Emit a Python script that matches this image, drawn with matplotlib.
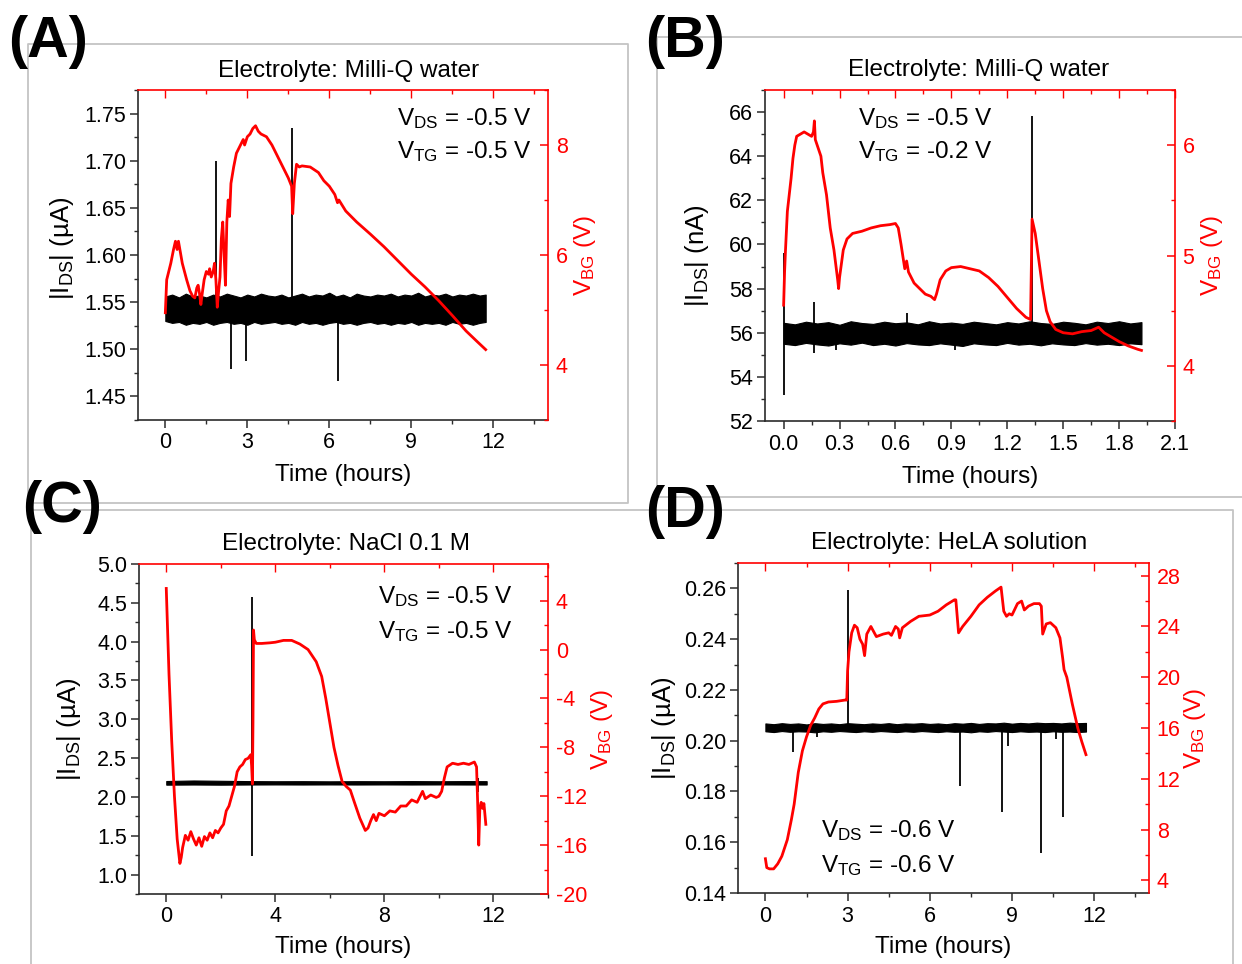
import matplotlib

matplotlib.use("Agg")
import matplotlib.pyplot as plt
from matplotlib.lines import Line2D
from matplotlib.ticker import FormatStrFormatter, MultipleLocator

plt.rcParams["font.family"] = ["Liberation Sans", "DejaVu Sans"]
plt.rcParams["mathtext.fontset"] = "custom"
plt.rcParams["mathtext.rm"] = "Liberation Sans"
plt.rcParams["mathtext.it"] = "Liberation Sans:italic"
plt.rcParams["mathtext.bf"] = "Liberation Sans:bold"
plt.rcParams["axes.unicode_minus"] = False

W, H = 1242, 964
RED = "#ff0000"
AXIS = "#2b2b2b"
FRAME = "#c4c4c4"

# ---------------- panel A: Milli-Q water, VTG = -0.5 V ----------------
vbg_a_t = [0.0, 0.05, 0.1, 0.2, 0.3, 0.37, 0.43, 0.48, 0.55, 0.62, 0.7, 0.78,
           0.9, 1.0, 1.08, 1.15, 1.2, 1.25, 1.3, 1.35, 1.42, 1.5, 1.58, 1.62,
           1.68, 1.75, 1.8, 1.85, 1.9, 1.95, 2.0, 2.05, 2.1, 2.15, 2.2, 2.25,
           2.3, 2.35, 2.4, 2.5, 2.6, 2.75, 2.85, 2.9, 3.0, 3.1, 3.2, 3.3, 3.4,
           3.5, 3.7, 3.9, 4.1, 4.3, 4.5, 4.62, 4.66, 4.72, 4.8, 4.9, 5.0, 5.3,
           5.6, 5.8, 6.0, 6.2, 6.3, 6.35, 6.6, 7.0, 7.5, 8.0, 8.5, 9.0, 9.5,
           10.0, 10.5, 11.0, 11.4, 11.72]
vbg_a = [4.95, 5.55, 5.65, 5.85, 6.1, 6.25, 6.1, 6.25, 6.05, 5.85, 5.7, 5.55,
         5.35, 5.25, 5.22, 5.4, 5.45, 5.3, 5.1, 5.3, 5.55, 5.7, 5.65, 5.75,
         5.6, 5.7, 5.85, 5.55, 5.05, 5.35, 5.6, 6.3, 6.6, 6.0, 5.45, 6.6,
         7.0, 6.7, 7.3, 7.6, 7.85, 8.0, 8.1, 8.0, 8.15, 8.2, 8.3, 8.35, 8.25,
         8.2, 8.15, 8.0, 7.8, 7.6, 7.4, 7.25, 6.75, 7.3, 7.65, 7.6, 7.62, 7.6,
         7.5, 7.35, 7.25, 7.1, 6.95, 7.0, 6.8, 6.6, 6.38, 6.15, 5.9, 5.65, 5.42,
         5.17, 4.9, 4.62, 4.43, 4.28]
ids_a_t = [0.0, 0.25, 0.5, 0.75, 1.0, 1.25, 1.5, 1.75, 2.0, 2.25, 2.5, 2.75,
           3.0, 3.25, 3.5, 3.75, 4.0, 4.25, 4.5, 4.75, 5.0, 5.25, 5.5, 5.75,
           6.0, 6.25, 6.5, 6.75, 7.0, 7.25, 7.5, 7.75, 8.0, 8.25, 8.5, 8.75,
           9.0, 9.25, 9.5, 9.75, 10.0, 10.25, 10.5, 10.75, 11.0, 11.25, 11.5,
           11.72]
ids_a_hi = [1.556, 1.558, 1.555, 1.559, 1.556, 1.557, 1.555, 1.558, 1.556,
            1.559, 1.557, 1.555, 1.558, 1.556, 1.559, 1.557, 1.556, 1.558,
            1.555, 1.557, 1.559, 1.556, 1.558, 1.557, 1.560, 1.556, 1.558,
            1.555, 1.559, 1.557, 1.556, 1.558, 1.557, 1.559, 1.556, 1.558,
            1.557, 1.560, 1.556, 1.558, 1.557, 1.559, 1.556, 1.558, 1.557,
            1.559, 1.557, 1.558]
ids_a_lo = [1.530, 1.528, 1.529, 1.526, 1.528, 1.527, 1.529, 1.526, 1.528,
            1.529, 1.527, 1.528, 1.526, 1.529, 1.527, 1.528, 1.529, 1.527,
            1.528, 1.526, 1.529, 1.527, 1.528, 1.526, 1.528, 1.529, 1.527,
            1.528, 1.526, 1.528, 1.529, 1.527, 1.528, 1.526, 1.528, 1.527,
            1.529, 1.526, 1.528, 1.527, 1.528, 1.526, 1.529, 1.527, 1.528,
            1.526, 1.528, 1.529]
spike_a_t = [1.85, 4.65, 2.4, 2.95, 6.3]
spike_a_lo = [1.545, 1.545, 1.479, 1.488, 1.466]
spike_a_hi = [1.700, 1.735, 1.540, 1.540, 1.540]

# ---------------- panel B: Milli-Q water, VTG = -0.2 V ----------------
vbg_b_t = [0.0, 0.005, 0.01, 0.02, 0.03, 0.04, 0.05, 0.06, 0.07, 0.09, 0.11,
           0.13, 0.15, 0.16, 0.165, 0.17, 0.19, 0.2, 0.21, 0.23, 0.25, 0.27,
           0.29, 0.295, 0.3, 0.32, 0.34, 0.37, 0.42, 0.47, 0.52, 0.57, 0.6,
           0.615, 0.63, 0.65, 0.66, 0.67, 0.7, 0.73, 0.76, 0.79, 0.81, 0.82,
           0.84, 0.87, 0.9, 0.95, 1.0, 1.05, 1.1, 1.15, 1.2, 1.25, 1.3, 1.325,
           1.333, 1.35, 1.37, 1.39, 1.41, 1.43, 1.46, 1.5, 1.55, 1.6, 1.65,
           1.69, 1.72, 1.76, 1.8, 1.85, 1.9, 1.92]
vbg_b = [4.55, 4.85, 5.05, 5.4, 5.55, 5.7, 5.88, 6.0, 6.08, 6.1, 6.12,
         6.1, 6.08, 6.12, 6.22, 6.05, 5.95, 5.9, 5.75, 5.55, 5.25, 5.05,
         4.78, 4.7, 4.8, 5.05, 5.15, 5.2, 5.22, 5.25, 5.27, 5.28, 5.29,
         5.25, 5.1, 4.88, 4.95, 4.85, 4.75, 4.7, 4.65, 4.63, 4.6, 4.65,
         4.78, 4.86, 4.89, 4.9, 4.88, 4.86, 4.8, 4.72, 4.62, 4.52, 4.44, 4.42,
         5.33, 5.2, 4.95, 4.7, 4.5, 4.4, 4.33, 4.3, 4.29, 4.31, 4.32,
         4.35, 4.3, 4.26, 4.22, 4.18, 4.15, 4.14]
ids_b_t = [0.0, 0.06, 0.12, 0.18, 0.24, 0.30, 0.36, 0.42, 0.48, 0.54, 0.60,
           0.66, 0.72, 0.78, 0.84, 0.90, 0.96, 1.02, 1.08, 1.14, 1.20, 1.26,
           1.32, 1.38, 1.44, 1.50, 1.56, 1.62, 1.68, 1.74, 1.80, 1.86, 1.92]
ids_b_hi = [56.45, 56.38, 56.50, 56.42, 56.48, 56.36, 56.52, 56.44, 56.40,
            56.50, 56.43, 56.47, 56.38, 56.52, 56.42, 56.46, 56.40, 56.50,
            56.44, 56.38, 56.48, 56.42, 56.52, 56.44, 56.40, 56.50, 56.45,
            56.38, 56.50, 56.44, 56.52, 56.42, 56.48]
ids_b_lo = [55.50, 55.44, 55.54, 55.47, 55.42, 55.52, 55.46, 55.55, 55.44,
            55.50, 55.42, 55.53, 55.47, 55.44, 55.52, 55.46, 55.40, 55.52,
            55.47, 55.44, 55.54, 55.46, 55.50, 55.43, 55.52, 55.47, 55.44,
            55.53, 55.46, 55.50, 55.44, 55.52, 55.48]
spike_b_t = [0.0, 0.165, 0.66, 1.33, 0.28, 0.92]
spike_b_lo = [53.2, 55.1, 56.0, 56.0, 55.2, 55.2]
spike_b_hi = [59.6, 57.4, 56.9, 65.8, 56.0, 56.0]

# ---------------- panel C: NaCl 0.1 M ----------------
vbg_c_t = [0.0, 0.1, 0.2, 0.3, 0.4, 0.5, 0.55, 0.6, 0.7, 0.8, 0.9, 1.0, 1.1,
           1.2, 1.3, 1.4, 1.5, 1.6, 1.7, 1.8, 1.9, 2.0, 2.1, 2.2, 2.3, 2.4,
           2.5, 2.6, 2.7, 2.8, 2.9, 3.0, 3.1, 3.13, 3.16, 3.18, 3.2, 3.23, 3.3,
           3.5, 3.8, 4.0, 4.3, 4.6, 4.9, 5.2, 5.5, 5.7, 5.85, 6.0, 6.15, 6.3,
           6.45, 6.6, 6.75, 6.9, 7.1, 7.3, 7.4, 7.5, 7.6, 7.7, 7.8, 8.0, 8.2,
           8.4, 8.6, 8.8, 9.0, 9.2, 9.4, 9.5, 9.7, 9.9, 10.0, 10.1, 10.2, 10.3,
           10.5, 10.7, 10.9, 11.1, 11.3, 11.38, 11.42, 11.46, 11.5, 11.55,
           11.6, 11.65, 11.72]
vbg_c = [5.0, -2.0, -7.5, -12.0, -15.5, -17.5, -17.0, -16.2, -15.2, -15.6,
         -14.9, -15.5, -16.0, -15.4, -16.1, -15.3, -15.6, -15.0, -15.4, -14.8,
         -15.0, -14.6, -14.3, -13.2, -12.8, -12.0, -11.2, -10.0, -9.6, -9.4,
         -9.0, -8.9, -8.6, -9.5, -11.0, -6.0, 1.6, 0.8, 0.5, 0.5, 0.55, 0.6,
         0.75, 0.75, 0.45, 0.0, -1.0, -2.2, -4.0, -6.0, -8.0, -9.5, -10.8,
         -11.2, -11.5, -12.5, -13.8, -14.8, -14.6, -14.0, -13.5, -14.0, -13.4,
         -13.6, -13.2, -13.3, -12.8, -12.8, -12.3, -12.5, -11.6, -12.2, -11.9,
         -12.1, -12.0, -11.6, -10.5, -9.6, -9.3, -9.4, -9.3, -9.4, -9.2, -9.6,
         -12.5, -16.0, -13.0, -12.5, -13.0, -12.6, -14.3]
ids_c_t = [0.0, 1.0, 2.0, 3.0, 4.0, 5.0, 6.0, 7.0, 8.0, 9.0, 10.0, 11.0, 11.75]
ids_c_hi = [2.205, 2.212, 2.208, 2.204, 2.202, 2.203, 2.201, 2.203, 2.202,
            2.204, 2.202, 2.204, 2.203]
ids_c_lo = [2.158, 2.160, 2.158, 2.160, 2.161, 2.160, 2.161, 2.160, 2.161,
            2.160, 2.161, 2.160, 2.160]
spike_c_t = [3.15, 11.45]
spike_c_lo = [1.24, 2.07]
spike_c_hi = [4.58, 2.24]

# ---------------- panel D: HeLA solution ----------------
vbg_d_t = [0.0, 0.05, 0.15, 0.3, 0.45, 0.6, 0.8, 0.95, 1.05, 1.2, 1.35, 1.5,
           1.65, 1.8, 1.95, 2.1, 2.3, 2.6, 2.9, 2.97, 3.0, 3.05, 3.15, 3.25,
           3.35, 3.45, 3.55, 3.62, 3.7, 3.85, 3.95, 4.05, 4.3, 4.5, 4.6, 4.75,
           4.85, 4.9, 5.0, 5.3, 5.6, 6.0, 6.3, 6.6, 6.9, 6.95, 7.05, 7.2, 7.5,
           7.8, 8.1, 8.4, 8.6, 8.7, 8.8, 8.9, 9.0, 9.2, 9.35, 9.45, 9.6, 9.8,
           10.0, 10.07, 10.12, 10.25, 10.4, 10.6, 10.75, 10.85, 10.9, 11.0,
           11.2, 11.4, 11.55, 11.7]
vbg_d = [5.7, 5.0, 4.9, 4.9, 5.3, 5.9, 7.2, 8.8, 10.0, 12.5, 14.2, 15.3,
         16.2, 16.8, 17.5, 17.9, 18.05, 18.1, 18.2, 18.2, 20.5, 22.0, 23.5,
         24.1, 23.9, 23.0, 22.6, 21.7, 23.4, 24.0, 23.6, 23.2, 23.4, 23.5,
         23.3, 24.0, 23.8, 23.1, 23.9, 24.4, 24.8, 24.9, 25.2, 25.7, 26.1,
         26.1, 23.5, 24.0, 24.8, 25.7, 26.3, 26.8, 27.1, 25.2, 24.8, 25.0,
         24.9, 25.8, 26.0, 25.3, 25.6, 25.8, 25.8, 25.6, 23.4, 24.2, 24.3,
         23.9, 23.1, 21.5, 20.6, 20.0, 17.9, 16.0, 14.9, 13.9]
ids_d_t = [0.0, 0.3, 0.6, 0.9, 1.2, 1.5, 1.8, 2.1, 2.4, 2.7, 3.0, 3.3, 3.6,
           3.9, 4.2, 4.5, 4.8, 5.1, 5.4, 5.7, 6.0, 6.3, 6.6, 6.9, 7.2, 7.5,
           7.8, 8.1, 8.4, 8.7, 9.0, 9.3, 9.6, 9.9, 10.2, 10.5, 10.8, 11.1,
           11.4, 11.7]
ids_d_hi = [0.2068, 0.2065, 0.2069, 0.2066, 0.2068, 0.2064, 0.2069, 0.2066,
            0.2068, 0.2065, 0.2069, 0.2067, 0.2065, 0.2068, 0.2066, 0.2069,
            0.2065, 0.2068, 0.2067, 0.2069, 0.2066, 0.2068, 0.2065, 0.2069,
            0.2067, 0.2070, 0.2066, 0.2069, 0.2068, 0.2071, 0.2067, 0.2070,
            0.2068, 0.2071, 0.2069, 0.2070, 0.2068, 0.2071, 0.2069, 0.2070]
ids_d_lo = [0.2037, 0.2034, 0.2038, 0.2035, 0.2037, 0.2036, 0.2033, 0.2037,
            0.2035, 0.2038, 0.2036, 0.2034, 0.2037, 0.2035, 0.2038, 0.2036,
            0.2034, 0.2037, 0.2035, 0.2038, 0.2036, 0.2034, 0.2037, 0.2035,
            0.2036, 0.2033, 0.2037, 0.2035, 0.2038, 0.2036, 0.2034, 0.2037,
            0.2035, 0.2036, 0.2034, 0.2037, 0.2035, 0.2036, 0.2034, 0.2036]
spike_d_t = [3.0, 1.0, 1.9, 7.1, 8.65, 8.85, 10.05, 10.6, 10.85]
spike_d_lo = [0.2055, 0.1957, 0.2016, 0.1821, 0.1720, 0.1979, 0.1558, 0.2005,
              0.1700]
spike_d_hi = [0.2592, 0.2055, 0.2055, 0.2055, 0.2055, 0.2055, 0.2055, 0.2055,
              0.2055]

fig = plt.figure(figsize=(W / 100, H / 100), dpi=100)


def fx(px):
    return px / W


def fy(py):
    return 1 - py / H


def make_panel(rect, xlim, xmaj, ylim, ymaj, y2lim, y2maj, xfmt, yfmt, unit):
    left, top, right, bottom = rect
    ax = fig.add_axes([fx(left), fy(bottom), (right - left) / W, (bottom - top) / H])
    ax2 = ax.twinx()

    ax.set_xlim(*xlim)
    ax.set_ylim(*ylim)
    ax2.set_ylim(*y2lim)
    ax.xaxis.set_major_locator(MultipleLocator(xmaj))
    ax.xaxis.set_minor_locator(MultipleLocator(xmaj / 2))
    ax.yaxis.set_major_locator(MultipleLocator(ymaj))
    ax.yaxis.set_minor_locator(MultipleLocator(ymaj / 2))
    ax2.yaxis.set_major_locator(MultipleLocator(y2maj))
    ax2.yaxis.set_minor_locator(MultipleLocator(y2maj / 2))
    ax.xaxis.set_major_formatter(FormatStrFormatter(xfmt))
    ax.yaxis.set_major_formatter(FormatStrFormatter(yfmt))
    ax2.yaxis.set_major_formatter(FormatStrFormatter("%d"))

    for side in ("top", "right"):
        ax.spines[side].set_visible(False)
    for side in ("left", "bottom"):
        ax.spines[side].set_color(AXIS)
        ax.spines[side].set_linewidth(1.2)
        ax2.spines[side].set_visible(False)
    for side in ("top", "right"):
        ax2.spines[side].set_color(RED)
        ax2.spines[side].set_linewidth(1.2)

    ax.tick_params(axis="x", which="major", direction="out", length=6, width=1.1,
                   color=AXIS, labelsize=15.5, pad=3)
    ax.tick_params(axis="y", which="major", direction="out", length=6, width=1.1,
                   color=AXIS, labelsize=15.5, pad=2.5)
    ax.tick_params(axis="both", which="minor", direction="out", length=3.2,
                   width=1.0, color=AXIS)
    ax2.tick_params(axis="y", which="major", direction="in", length=6, width=1.1,
                    color=RED, labelcolor=RED, labelsize=15.5, pad=5.5)
    ax2.tick_params(axis="y", which="minor", direction="in", length=3.2,
                    width=1.0, color=RED)
    ax2.xaxis.set_visible(True)
    ax2.tick_params(axis="x", which="both", top=True, bottom=False,
                    labeltop=False, labelbottom=False, direction="in",
                    color=RED, width=1.0)
    ax2.tick_params(axis="x", which="major", length=6)
    ax2.tick_params(axis="x", which="minor", length=3.2)

    ax.set_xlabel("Time (hours)", fontsize=17.5, va="center")
    ax.set_ylabel("|I$_{\\mathrm{DS}}$| (" + unit + ")", fontsize=18.5, va="center")
    ax2.set_ylabel("V$_{\\mathrm{BG}}$ (V)", fontsize=17.5, color=RED, va="center")
    return ax, ax2


def draw_traces(ax, ax2, band_t, band_lo, band_hi, sp_t, sp_lo, sp_hi, vt, v):
    ax.fill_between(band_t, band_lo, band_hi, color="black", lw=0.8)
    ax.vlines(sp_t, sp_lo, sp_hi, color="black", lw=1.3)
    ax2.plot(vt, v, color=RED, lw=2.0)


def annotate(ax, x, y1, y2, vds, vtg, ha):
    ax.text(x, y1, "V$_{\\mathrm{DS}}$ = " + vds + " V", transform=ax.transAxes,
            fontsize=17.5, ha=ha, va="baseline", zorder=5)
    ax.text(x, y2, "V$_{\\mathrm{TG}}$ = " + vtg + " V", transform=ax.transAxes,
            fontsize=17.5, ha=ha, va="baseline", zorder=5)


# grey page frames
frame_lines = [
    [(28, 503), (28, 44), (628, 44), (628, 503), (28, 503)],
    [(1250, 37), (657, 37), (657, 497), (1250, 497)],
    [(31, 970), (31, 510), (1233, 510), (1233, 970)],
]
for pts in frame_lines:
    fig.add_artist(Line2D([fx(p[0]) for p in pts], [fy(p[1]) for p in pts],
                          color=FRAME, lw=1.3, zorder=0))

# panel A
axA, axA2 = make_panel((138, 90, 548, 420), (-1, 14), 3, (1.425, 1.775), 0.05,
                       (3, 9), 2, "%d", "%.2f", "µA")
draw_traces(axA, axA2, ids_a_t, ids_a_lo, ids_a_hi, spike_a_t, spike_a_lo,
            spike_a_hi, vbg_a_t, vbg_a)
annotate(axA2, 0.961, 0.894, 0.794, "-0.5", "-0.5", "right")
axA.yaxis.set_label_coords(-0.185, 0.52)
axA2.yaxis.set_label_coords(1.09, 0.5)
axA.xaxis.set_label_coords(0.5, -0.167)

# panel B
axB, axB2 = make_panel((765, 90, 1175, 421), (-0.1, 2.1), 0.3, (52, 67), 2,
                       (3.5, 6.5), 1, "%.1f", "%d", "nA")
draw_traces(axB, axB2, ids_b_t, ids_b_lo, ids_b_hi, spike_b_t, spike_b_lo,
            spike_b_hi, vbg_b_t, vbg_b)
annotate(axB2, 0.226, 0.894, 0.795, "-0.5", "-0.2", "left")
axB.yaxis.set_label_coords(-0.166, 0.5)
axB2.yaxis.set_label_coords(1.09, 0.5)
axB.xaxis.set_label_coords(0.5, -0.169)

# panel C
axC, axC2 = make_panel((139, 564, 548, 894), (-1, 14), 4, (0.75, 5.0), 0.5,
                       (-20, 7), 4, "%d", "%.1f", "µA")
draw_traces(axC, axC2, ids_c_t, ids_c_lo, ids_c_hi, spike_c_t, spike_c_lo,
            spike_c_hi, vbg_c_t, vbg_c)
annotate(axC2, 0.914, 0.882, 0.776, "-0.5", "-0.5", "right")
axC.yaxis.set_label_coords(-0.172, 0.5)
axC2.yaxis.set_label_coords(1.133, 0.5)
axC.xaxis.set_label_coords(0.5, -0.161)

# panel D
axD, axD2 = make_panel((738, 563, 1149, 893), (-1, 14), 3, (0.14, 0.27), 0.02,
                       (3, 29), 4, "%d", "%.2f", "µA")
draw_traces(axD, axD2, ids_d_t, ids_d_lo, ids_d_hi, spike_d_t, spike_d_lo,
            spike_d_hi, vbg_d_t, vbg_d)
annotate(axD2, 0.203, 0.17, 0.064, "-0.6", "-0.6", "left")
axD.yaxis.set_label_coords(-0.179, 0.5)
axD2.yaxis.set_label_coords(1.112, 0.5)
axD.xaxis.set_label_coords(0.5, -0.164)

# titles and panel letters
titles = [
    (349, 77, "Electrolyte: Milli-Q water"),
    (979, 76, "Electrolyte: Milli-Q water"),
    (346, 550, "Electrolyte: NaCl 0.1 M"),
    (949, 549, "Electrolyte: HeLA solution"),
]
for x, y, s in titles:
    fig.text(fx(x), fy(y), s, fontsize=17.5, ha="center", va="baseline")

letters = [(8, 57, "(A)"), (645, 57, "(B)"), (22, 522, "(C)"), (645, 527, "(D)")]
for x, y, s in letters:
    fig.text(fx(x), fy(y), s, fontsize=41.5, fontweight="bold", ha="left",
             va="baseline")

fig.savefig("out.png", dpi=100)
